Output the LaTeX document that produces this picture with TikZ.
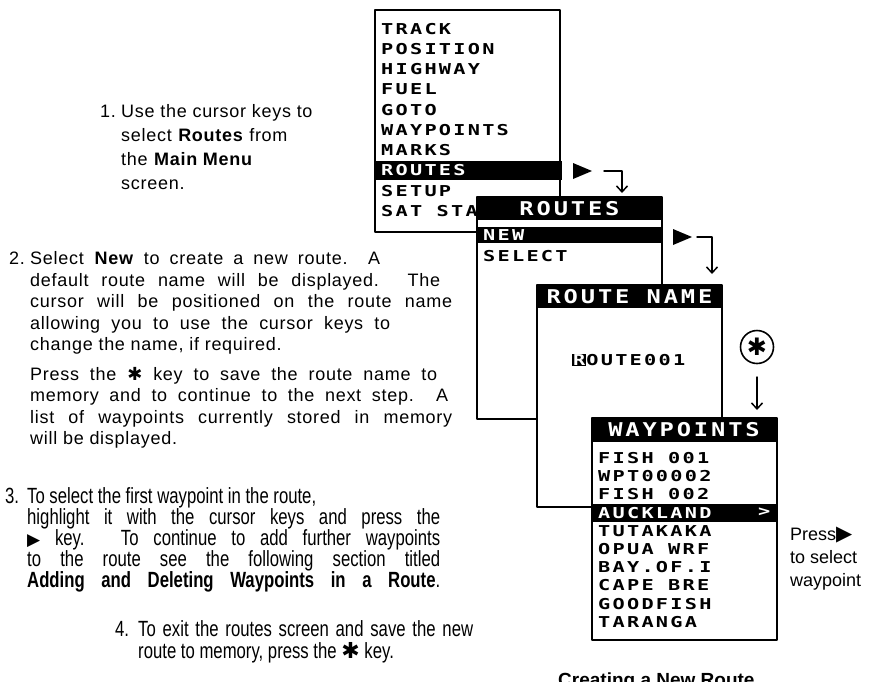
\documentclass[tikz,border=0pt]{standalone}
\usepackage{fontspec}
\setmainfont{Liberation Sans}
\newfontfamily\lcdfont{DejaVu Sans Mono}[FakeStretch=1.35,LetterSpace=15]
\newfontfamily\lcdbigfont{DejaVu Sans Mono}[FakeStretch=1.25,LetterSpace=15]
\newfontfamily\symfont{DejaVu Sans}
\newfontfamily\trackfont{Liberation Sans}[LetterSpace=4]
\newfontfamily\narrowfont{Liberation Sans}[FakeStretch=0.76]
\usetikzlibrary{arrows.meta}
\tikzset{>={Straight Barb[length=6pt,width=11pt]}}
\tikzset{
  lcdscreen/.style={draw, line width=2pt, fill=white, anchor=north west, minimum width=185pt, minimum height=222pt, inner sep=0pt, outer sep=0pt},
  lcditem/.style={anchor=west, inner sep=0pt, font=\lcdfont\bfseries\fontsize{15}{15}\selectfont},
  lcdtitle/.style={inner sep=0pt, text=white, font=\lcdbigfont\bfseries\fontsize{19}{19}\selectfont},
  steptext/.style={anchor=north west, inner sep=0pt, align=left}
}
\newcommand{\stepline}[2]{\makebox[#1pt][s]{#2}}
\newcommand{\keystar}{{\symfont ✱}}
\newcommand{\keyright}{{\symfont\fontsize{21}{21}\selectfont ▶}}

\begin{document}
\begin{tikzpicture}[x=1pt, y=-1pt, line cap=round, line join=round]
\useasboundingbox (0,0) rectangle (878,681);
\fill[white] (0,0) rectangle (878,681);

% instructions
\node[steptext, font=\trackfont\fontsize{18}{24}\selectfont] (step1) at (100,104) {\makebox[21pt][l]{1.}Use the cursor keys to\\
\hspace*{21pt}select \textbf{Routes} from\\
\hspace*{21pt}the \textbf{Main Menu}\\
\hspace*{21pt}screen.};

\node[steptext, font=\trackfont\fontsize{18}{21.5}\selectfont] (step2) at (9,251.5) {\makebox[21pt][l]{2.}\stepline{350}{Select \textbf{New} to create a new route. A}\\
\hspace*{21pt}\stepline{410}{default route name will be displayed. The}\\
\hspace*{21pt}\stepline{422}{cursor will be positioned on the route name}\\
\hspace*{21pt}\stepline{360}{allowing you to use the cursor keys to}\\
\hspace*{21pt}change the name, if required.\\[8pt]
\hspace*{21pt}\stepline{407}{Press the \keystar{} key to save the route name to}\\
\hspace*{21pt}\stepline{418}{memory and to continue to the next step. A}\\
\hspace*{21pt}\stepline{422}{list of waypoints currently stored in memory}\\
\hspace*{21pt}will be displayed.};

\node[steptext, font=\narrowfont\fontsize{22}{21}\selectfont] (step3) at (5,487) {\makebox[22pt][l]{3.}To select the first waypoint in the route,\\
\hspace*{22pt}\stepline{413}{highlight it with the cursor keys and press the}\\
\hspace*{22pt}\stepline{413}{{\symfont\fontsize{17}{17}\selectfont ▶} key. To continue to add further waypoints}\\
\hspace*{22pt}\stepline{413}{to the route see the following section titled}\\
\hspace*{22pt}\stepline{413}{\textbf{Adding and Deleting Waypoints in a Route}.}};

\node[steptext, font=\narrowfont\fontsize{22}{22}\selectfont] (step4) at (115,620) {\makebox[23pt][l]{4.}\stepline{335}{To exit the routes screen and save the new}\\
\hspace*{23pt}route to memory, press the \keystar{} key.};

% main menu
\node[lcdscreen] (menu) at (375,10) {};
\fill (375,161) rectangle (562,180);
\foreach \entry/\row in {TRACK/0, POSITION/1, HIGHWAY/2, FUEL/3, GOTO/4, WAYPOINTS/5, MARKS/6, SETUP/8, SAT STA/9}
  \node[lcditem] (menu\row) at (381,{29+20.2*\row}) {\entry};
\node[lcditem, text=white] (menu7) at (381,{29+20.2*7}) {ROUTES};

\fill (573,163) -- (592,171) -- (573,179) -- cycle;
\coordinate (a1) at (604,171);
\coordinate (a1end) at (622,193);
\draw[->, line width=1.5pt] (a1) -| (a1end);

% routes
\node[lcdscreen] (routes) at (477,197) {};
\fill (477,197) rectangle (662,220);
\fill (477,227) rectangle (662,243);
\node[lcdtitle] (routestitle) at (569.5,208.5) {ROUTES};
\node[lcditem, text=white] (routes0) at (483,235) {NEW};
\node[lcditem] (routes1) at (483,256) {SELECT};

\fill (673,229) -- (692,237) -- (673,245) -- cycle;
\coordinate (a2) at (697,237);
\coordinate (a2end) at (712,274);
\draw[->, line width=1.5pt] (a2) -| (a2end);

% route name
\node[lcdscreen] (rname) at (537,285) {};
\fill (537,285) rectangle (722,308);
\node[lcdtitle] (rnametitle) at (629.5,296.5) {ROUTE NAME};
\node[lcditem] (rname0) at (572,360) {{\setlength{\fboxsep}{1pt}\colorbox{black}{\textcolor{white}{R}}}OUTE001};

\node[circle, draw, line width=1.6pt, minimum size=33pt, inner sep=0pt] (star) at (757,347) {\symfont\fontsize{24}{24}\selectfont ✱};
\coordinate (s1) at (757,377);
\coordinate (s2) at (757,410);
\draw[->, line width=1.5pt] (s1) -- (s2);

% waypoints
\node[lcdscreen] (wpts) at (592,418) {};
\fill (592,418) rectangle (776,442);
\node[lcdtitle] (wptstitle) at (684,430) {WAYPOINTS};
\fill (592,504) rectangle (776,522);
\foreach \entry/\row in {FISH 001/0, WPT00002/1, FISH 002/2, TUTAKAKA/4, OPUA WRF/5, BAY.OF.I/6, CAPE BRE/7, GOODFISH/8, TARANGA/9}
  \node[lcditem] (wpts\row) at (598,{458+18.2*\row}) {\entry};
\node[lcditem, text=white] (wpts3) at (598,{458+18.2*3}) {AUCKLAND};
\node[lcditem, text=white] (wptsmore) at (758,{458+18.2*3}) {>};

\node[anchor=north west, inner sep=0pt, align=left, font=\fontsize{18}{23}\selectfont] (press) at (790,527) {Press\keyright\\to select\\waypoint};

\node[anchor=base west, inner sep=0pt, font=\bfseries\fontsize{19}{19}\selectfont] (caption) at (558,686) {Creating a New Route};
\end{tikzpicture}
\end{document}
